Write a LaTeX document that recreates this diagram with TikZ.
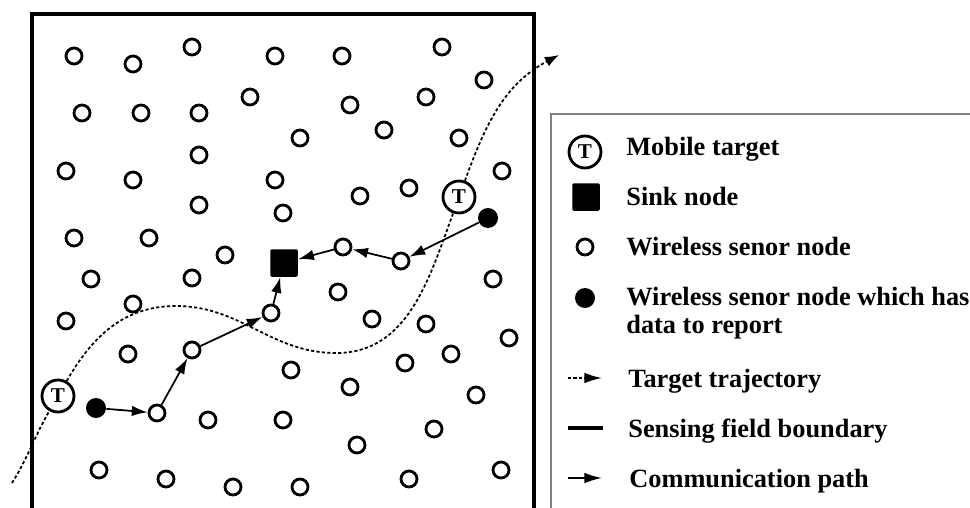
\documentclass[tikz,border=0pt]{standalone}
\usepackage{fontspec}
\setmainfont{Liberation Serif}
\usetikzlibrary{positioning, arrows.meta}

\begin{document}
\begin{tikzpicture}[x=0.02cm, y=-0.02cm,
    sensor/.style={circle, draw, fill=white, line width=1.6pt, minimum size=0.32cm, inner sep=0pt},
    source/.style={circle, fill=black, minimum size=0.4cm, inner sep=0pt},
    sink/.style={rectangle, fill=black, rounded corners=0.8pt, minimum size=0.55cm, inner sep=0pt},
    target/.style={circle, draw, fill=white, line width=1.6pt, minimum size=0.64cm, inner sep=0pt, font=\fontsize{12}{12}\selectfont\bfseries},
    hop/.style={-{Latex[length=9pt, width=6pt]}, line width=1pt},
    traj/.style={dash pattern=on 1.8pt off 1.3pt, line width=1pt, -{Latex[length=8pt, width=6pt]}},
    legtext/.style={anchor=base west, inner sep=0pt, font=\fontsize{15}{16}\selectfont\bfseries}]
    \useasboundingbox (0,0) rectangle (970,507);
    \clip (0,0) rectangle (970,507);

    % sensing field
    \draw[line width=2pt] (32,530) -- (32,14) -- (534,14) -- (534,530);

    % sensors
    \foreach \x/\y [count=\i] in {74/56, 133/64, 192/47, 275/56, 342/56, 442/47, 484/80, 82/113,
        141/113, 199/113, 250/97, 350/105, 426/97, 300/138, 384/130, 459/138, 199/155, 66/171,
        133/180, 275/180, 502/171, 360/196, 409/188, 199/205, 283/213, 74/238, 149/238, 225/255,
        91/279, 192/278, 338/292, 493/279, 133/304, 66/321, 372/319, 426/324, 509/338, 128/354,
        291/370, 405/363, 451/354, 350/387, 476/395, 208/420, 283/420, 434/429, 357/445, 99/470,
        166/479, 233/487, 300/487, 409/479, 501/470}
        \node[sensor] (s\i) at (\x,\y) {};

    % targets
    \node[target] (T1) at (58,396) {T};
    \node[target] (T2) at (459,197) {T};

    % routes to the sink
    \node[sink] (sink) at (284,263) {};
    \node[source] (src1) at (96,408) {};
    \node[sensor] (hop1) at (157,413) {};
    \node[sensor] (hop2) at (192,350) {};
    \node[sensor] (hop3) at (271,313) {};
    \node[source] (src2) at (488,218) {};
    \node[sensor] (hop4) at (401,261) {};
    \node[sensor] (hop5) at (343,247) {};
    \draw[hop] (src1) -- (hop1);
    \draw[hop] (hop1) -- (hop2);
    \draw[hop] (hop2) -- (hop3);
    \draw[hop] (hop3) -- (sink);
    \draw[hop] (src2) -- (hop4);
    \draw[hop] (hop4) -- (hop5);
    \draw[hop] (hop5) -- (sink);

    % trajectory
    \coordinate (trajstart) at (12,483);
    \coordinate (crest) at (176,306);
    \coordinate (trough) at (336,353);
    \coordinate (trajend) at (559,55);
    \draw[traj] (trajstart) to[out=58, in=240] (T1)
        to[out=60, in=180] (crest)
        to[out=0, in=180] (trough)
        to[out=0, in=250] (T2)
        to[out=70, in=208] (trajend);

    % legend
    \draw[gray, line width=0.6pt] (551,114) rectangle (990,530);
    \node[target] (lgT) at (585,152) {T};
    \node[legtext] (lgTtext) at (626,155) {Mobile target};
    \node[sink] (lgsink) at (586,197) {};
    \node[legtext] (lgsinktext) at (626,205) {Sink node};
    \node[sensor] (lgsensor) at (585,247) {};
    \node[legtext] (lgsensortext) at (626,255) {Wireless senor node};
    \node[source] (lgsource) at (585,298) {};
    \node[legtext] (lgsourcetext) at (626,305) {\begin{tabular}[t]{@{}l@{}}Wireless senor node which has\\data to report\end{tabular}};
    \coordinate (lgtrajA) at (568,378);
    \coordinate (lgtrajB) at (602,378);
    \draw[traj, -{Latex[length=10pt, width=6pt]}] (lgtrajA) -- (lgtrajB);
    \node[legtext] (lgtrajtext) at (628,387) {Target trajectory};
    \coordinate (lgbndA) at (568,428);
    \coordinate (lgbndB) at (603,428);
    \draw[line width=2pt] (lgbndA) -- (lgbndB);
    \node[legtext] (lgbndtext) at (628,437) {Sensing field boundary};
    \coordinate (lghopA) at (568,478);
    \coordinate (lghopB) at (602,478);
    \draw[hop, -{Latex[length=10pt, width=6pt]}] (lghopA) -- (lghopB);
    \node[legtext] (lghoptext) at (629,487) {Communication path};
\end{tikzpicture}
\end{document}
